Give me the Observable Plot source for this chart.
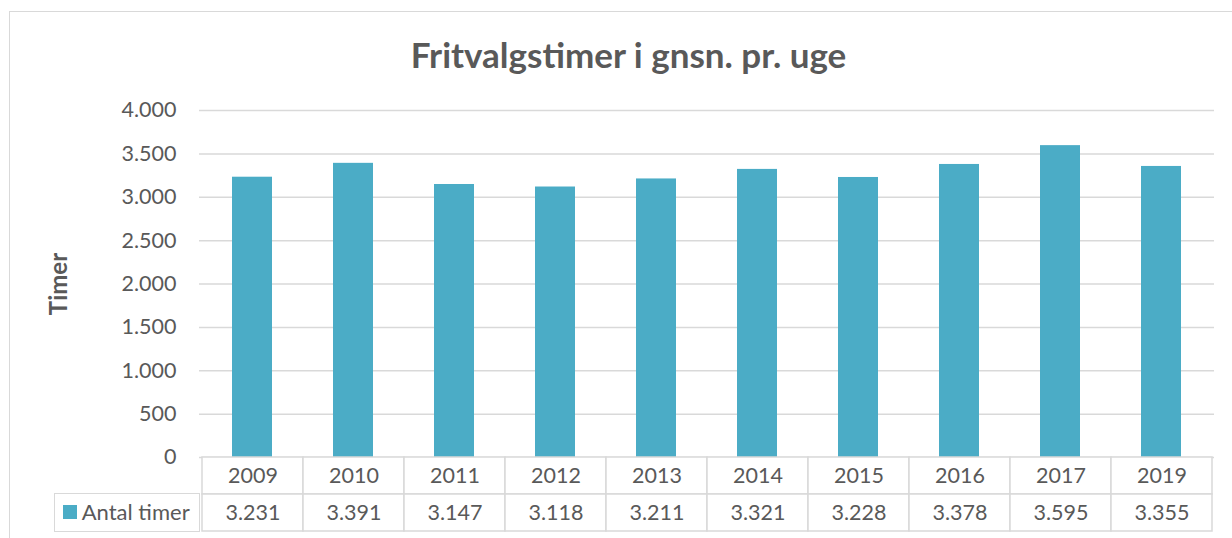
<!DOCTYPE html>
<html>
<head>
<meta charset="utf-8">
<script src="https://cdn.jsdelivr.net/npm/d3@7"></script>
<script src="https://cdn.jsdelivr.net/npm/@observablehq/plot@0.6"></script>
<style>
  html, body { margin: 0; padding: 0; background: #fff; }
  #wrap { position: relative; width: 1232px; height: 538px; overflow: hidden; background: #fff; font-family: Lato, "Open Sans", sans-serif; color: #595959; }
  #frame { position: absolute; left: 8.5px; top: 10.5px; width: 1400px; height: 700px; border: 1.5px solid #d9d9d9; box-sizing: border-box; }
  #title { position: absolute; left: 0; top: 33px; width: 1257px; text-align: center; font-size: 35px; font-weight: bold; line-height: 42px; }
  #chart, #table { position: absolute; left: 0; }
  #chart { top: 0; }
  #table { top: 455px; }
  #legendCell { position: absolute; left: 54.25px; top: 493.25px; width: 145.5px; height: 38.5px; border: 1.5px solid #d9d9d9; box-sizing: border-box; background: #fff; font-size: 22px; }
  #legendCell .sw { position: absolute; left: 7.5px; top: 10.5px; width: 14px; height: 14px; background: #4BACC6; }
  #legendCell .lb { position: absolute; left: 26.5px; top: 0; line-height: 35px; white-space: nowrap; }
</style>
</head>
<body>
<div id="wrap">
  <div id="frame"></div>
  <div id="title"></div>
  <div id="chart"></div>
  <div id="table"></div>
  <div id="legendCell"><div class="sw"></div><div class="lb"></div></div>
</div>
<script>
const title = "Fritvalgstimer i gnsn. pr. uge";
const yLabel = "Timer";
const seriesName = "Antal timer";
const years = ["2009", "2010", "2011", "2012", "2013", "2014", "2015", "2016", "2017", "2019"];
const values = [3231, 3391, 3147, 3118, 3211, 3321, 3228, 3378, 3595, 3355];
const yTicks = [0, 500, 1000, 1500, 2000, 2500, 3000, 3500, 4000];

const barColor = "#4BACC6";
const gridColor = "#d9d9d9";
const textColor = "#595959";

const fmt = d3.formatLocale({decimal: ",", thousands: ".", grouping: [3], currency: ["", " kr."]}).format(",d");

document.getElementById("title").textContent = title;
document.querySelector("#legendCell .lb").textContent = seriesName;

const data = years.map((y, i) => ({year: y, value: values[i]}));

const chart = Plot.plot({
  width: 1232,
  height: 460,
  marginLeft: 199,
  marginRight: 18,
  marginTop: 110,
  marginBottom: 3,
  style: {fontFamily: "Lato, 'Open Sans', sans-serif", fontSize: "21px", color: textColor, background: "transparent", overflow: "visible"},
  x: {domain: years, paddingInner: 0.6, paddingOuter: 0.3, axis: null},
  y: {domain: [0, 4000]},
  marks: [
    Plot.gridY(yTicks, {stroke: gridColor, strokeOpacity: 1, strokeWidth: 1.5}),
    Plot.barY(data, {x: "year", y: "value", fill: barColor}),
    Plot.axisY(yTicks, {tickSize: 0, tickPadding: 23, tickFormat: fmt, label: null, fontSize: 21.5, fill: textColor}),
    Plot.text([yLabel], {text: d => d, frameAnchor: "left", dx: -140, rotate: -90, textAnchor: "middle", lineAnchor: "middle", fontWeight: "bold", fontSize: 24, fill: textColor})
  ]
});
document.getElementById("chart").appendChild(chart);

const rows = [
  ...years.map(y => ({year: y, row: "år", label: y})),
  ...years.map((y, i) => ({year: y, row: "antal", label: fmt(values[i])}))
];

const table = Plot.plot({
  width: 1232,
  height: 80,
  marginLeft: 199,
  marginRight: 18,
  marginTop: 2,
  marginBottom: 4,
  style: {fontFamily: "Lato, 'Open Sans', sans-serif", fontSize: "21px", color: textColor, background: "transparent", overflow: "visible"},
  x: {domain: years, padding: 0, axis: null},
  y: {domain: ["år", "antal"], padding: 0, axis: null},
  marks: [
    Plot.cell(rows, {x: "year", y: "row", fill: "white", stroke: gridColor, strokeWidth: 1.5}),
    Plot.text(rows, {x: "year", y: "row", text: "label", fontSize: 21.5, fill: textColor, lineAnchor: "middle"})
  ]
});
document.getElementById("table").appendChild(table);
</script>
</body>
</html>
